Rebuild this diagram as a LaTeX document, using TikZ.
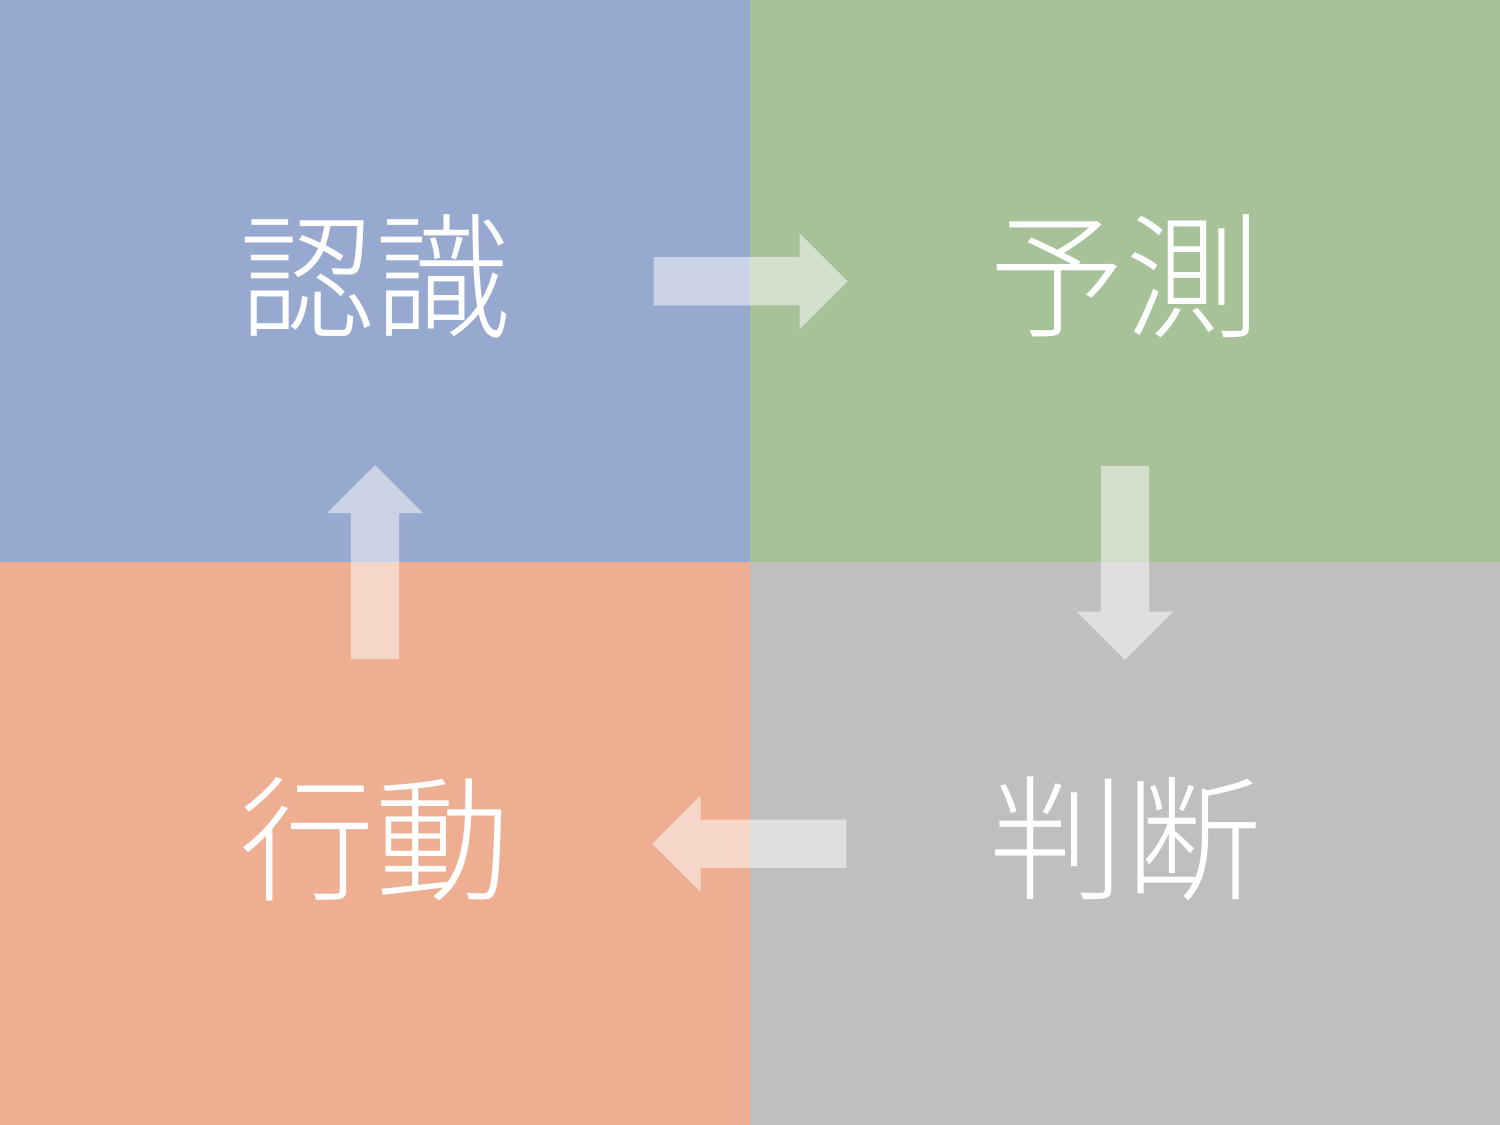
\documentclass[tikz,border=0pt]{standalone}
\usepackage{fontspec}
\setmainfont{Noto Sans CJK JP}[UprightFont=* Light]
\usepackage{tikz}
\usetikzlibrary{positioning, shapes.arrows}

\definecolor{qblue}{HTML}{98A9CF}
\definecolor{qgreen}{HTML}{A7C299}
\definecolor{qorange}{HTML}{EDAE91}
\definecolor{qgray}{HTML}{BFBFBF}

\begin{document}
\begin{tikzpicture}[
    node distance=0cm,
    quad/.style={rectangle, inner sep=0, outer sep=0, minimum width=7.5cm, minimum height=5.625cm},
    word/.style={text=white, inner sep=0, font=\fontsize{38.5}{40}\selectfont},
    blockarr/.style={single arrow, anchor=tail, fill=white, fill opacity=0.5, inner xsep=0, inner ysep=0.235cm,
      minimum height=1.94cm, minimum width=0.95cm, single arrow head extend=0.24cm},
  ]
    \useasboundingbox (0,0) rectangle (15,11.25);

    \node[quad, fill=qblue]   (ninshiki) at (3.75,8.4375) {};
    \node[quad, fill=qgreen, right=of ninshiki] (yosoku) {};
    \node[quad, fill=qgray, below=of yosoku] (handan) {};
    \node[quad, fill=qorange, left=of handan] (koudou) {};

    \node[word] at ([yshift=0.05cm]ninshiki.center) {認識};
    \node[word] at ([yshift=0.05cm]yosoku.center) {予測};
    \node[word] at ([yshift=0.05cm]handan.center) {判断};
    \node[word] at ([yshift=0.05cm]koudou.center) {行動};

    % arrows between the quadrants
    \node[blockarr] (toyosoku) at ([xshift=2.78cm]ninshiki.center) {};
    \node[blockarr, rotate=-90] (tohandan) at ([yshift=-1.84cm]yosoku.center) {};
    \node[blockarr, rotate=180] (tokoudou) at ([xshift=-2.78cm]handan.center) {};
    \node[blockarr, rotate=90] (toninshiki) at ([yshift=1.84cm]koudou.center) {};
  \end{tikzpicture}
\end{document}
